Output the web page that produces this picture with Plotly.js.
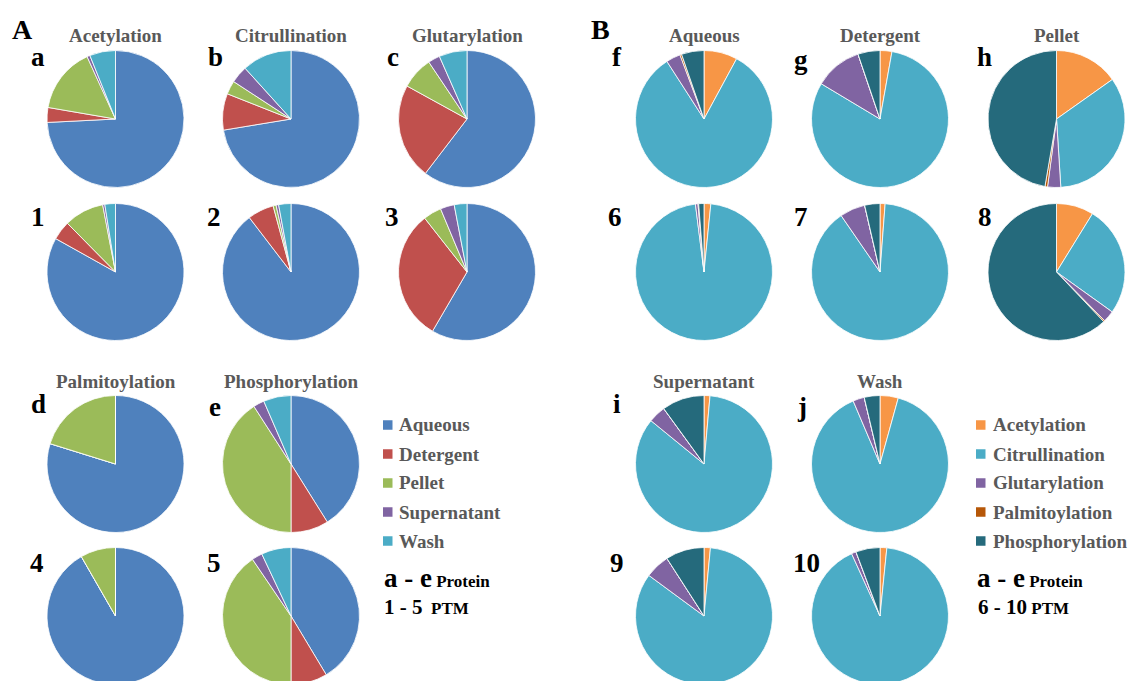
<!DOCTYPE html>
<html>
<head>
<meta charset="utf-8">
<script src="https://cdn.plot.ly/plotly-3.0.1.min.js"></script>
<style>
html,body{margin:0;padding:0;background:#fff;overflow:hidden;}
#chart{width:1131px;height:700px;}
</style>
</head>
<body>
<div id="chart"></div>
<script>
// ---------- DATA ----------
const fractionLabels = ["Aqueous", "Detergent", "Pellet", "Supernatant", "Wash"];
const ptmLabels = ["Acetylation", "Citrullination", "Glutarylation", "Palmitoylation", "Phosphorylation"];

// Panel A: distribution of each PTM across fractions (% of total)
const acetylationProtein     = [74.2, 3.5, 15.5, 0.7, 6.1];   // a
const citrullinationProtein  = [72.4, 8.6, 3.2, 4.1, 11.7];   // b
const glutarylationProtein   = [60.4, 22.6, 7.6, 2.8, 6.6];   // c
const palmitoylationProtein  = [79.8, 0, 20.2, 0, 0];         // d
const phosphorylationProtein = [41.1, 8.9, 40.9, 2.6, 6.5];   // e
const acetylationPTM         = [83.1, 4.5, 9.4, 0.5, 2.5];    // 1
const citrullinationPTM      = [89.6, 6.2, 0.7, 0.6, 2.9];    // 2
const glutarylationPTM       = [58.4, 31.0, 4.3, 3.3, 3.0];   // 3
const palmitoylationPTM      = [91.7, 0, 8.3, 0, 0];          // 4
const phosphorylationPTM     = [41.4, 8.6, 40.5, 2.5, 7.0];   // 5

// Panel B: distribution of PTMs within each fraction (% of total)
const aqueousProtein     = [7.9, 83.0, 3.4, 0.4, 5.3];        // f
const detergentProtein   = [2.8, 80.8, 11.2, 0, 5.2];         // g
const pelletProtein      = [15.2, 33.8, 3.1, 0.6, 47.3];      // h
const supernatantProtein = [1.4, 84.5, 4.1, 0, 10.0];         // i
const washProtein        = [4.3, 89.3, 2.7, 0, 3.7];          // j
const aqueousPTM         = [1.6, 96.4, 0.6, 0.15, 1.25];      // 6
const detergentPTM       = [1.2, 89.2, 6.0, 0, 3.6];          // 7
const pelletPTM          = [8.8, 26.1, 2.7, 0.3, 62.1];       // 8
const supernatantPTM     = [1.5, 83.6, 5.8, 0, 9.1];          // 9
const washPTM            = [1.6, 91.6, 1.1, 0, 5.7];          // 10

const panelATitles = ["Acetylation", "Citrullination", "Glutarylation", "Palmitoylation", "Phosphorylation"];
const panelBTitles = ["Aqueous", "Detergent", "Pellet", "Supernatant", "Wash"];
const keyLines = ["a - e", "Protein"];
const ptmKeyA = ["1 - 5", "PTM"];
const ptmKeyB = ["6 - 10", "PTM"];

// ---------- STYLE / LAYOUT ----------
const W = 1131, H = 700;
const colorsA = ["#4F81BD", "#C0504D", "#9BBB59", "#8064A2", "#4BACC6"];
const colorsB = ["#F79646", "#4BACC6", "#8064A2", "#B65708", "#256A7C"];
const R = 68.5;
const FONT = "Liberation Serif, Times New Roman, serif";
const GRAY = "#595959";

const px = x => x / W;
const py = y => 1 - y / H;

function pie(values, labels, colors, cx, cy) {
  return {
    type: "pie",
    values: values,
    labels: labels,
    sort: false,
    direction: "clockwise",
    rotation: 0,
    textinfo: "none",
    hoverinfo: "label+percent",
    showlegend: false,
    marker: { colors: colors, line: { color: "#ffffff", width: 0.8 } },
    domain: { x: [px(cx - R), px(cx + R)], y: [py(cy + R), py(cy - R)] }
  };
}

const colA = [115.5, 291, 467];
const colB = [704, 880, 1056.5];
const rowY = [119, 272, 464, 616];

const traces = [
  pie(acetylationProtein, fractionLabels, colorsA, colA[0], rowY[0]),
  pie(citrullinationProtein, fractionLabels, colorsA, colA[1], rowY[0]),
  pie(glutarylationProtein, fractionLabels, colorsA, colA[2], rowY[0]),
  pie(acetylationPTM, fractionLabels, colorsA, colA[0], rowY[1]),
  pie(citrullinationPTM, fractionLabels, colorsA, colA[1], rowY[1]),
  pie(glutarylationPTM, fractionLabels, colorsA, colA[2], rowY[1]),
  pie(palmitoylationProtein, fractionLabels, colorsA, colA[0], rowY[2]),
  pie(phosphorylationProtein, fractionLabels, colorsA, colA[1], rowY[2]),
  pie(palmitoylationPTM, fractionLabels, colorsA, colA[0], rowY[3]),
  pie(phosphorylationPTM, fractionLabels, colorsA, colA[1], rowY[3]),

  pie(aqueousProtein, ptmLabels, colorsB, colB[0], rowY[0]),
  pie(detergentProtein, ptmLabels, colorsB, colB[1], rowY[0]),
  pie(pelletProtein, ptmLabels, colorsB, colB[2], rowY[0]),
  pie(aqueousPTM, ptmLabels, colorsB, colB[0], rowY[1]),
  pie(detergentPTM, ptmLabels, colorsB, colB[1], rowY[1]),
  pie(pelletPTM, ptmLabels, colorsB, colB[2], rowY[1]),
  pie(supernatantProtein, ptmLabels, colorsB, colB[0], rowY[2]),
  pie(washProtein, ptmLabels, colorsB, colB[1], rowY[2]),
  pie(supernatantPTM, ptmLabels, colorsB, colB[0], rowY[3]),
  pie(washPTM, ptmLabels, colorsB, colB[1], rowY[3])
];

const annotations = [];
function txt(text, x, y, size, color, anchor) {
  annotations.push({
    text: text, x: px(x), y: py(y), xref: "paper", yref: "paper",
    xanchor: anchor || "center", yanchor: "middle", showarrow: false,
    font: { family: FONT, size: size, color: color, weight: "bold" }
  });
}

// panel letters
txt("A", 22.5, 30, 28, "#000");
txt("B", 600, 30, 28, "#000");

// titles
const titleRowTop = 35, titleRowBot = 381;
txt(panelATitles[0], colA[0], titleRowTop, 19, GRAY);
txt(panelATitles[1], colA[1], titleRowTop, 19, GRAY);
txt(panelATitles[2], colA[2], titleRowTop, 19, GRAY);
txt(panelATitles[3], colA[0], titleRowBot, 19, GRAY);
txt(panelATitles[4], colA[1], titleRowBot, 19, GRAY);
txt(panelBTitles[0], colB[0], titleRowTop, 19, GRAY);
txt(panelBTitles[1], colB[1], titleRowTop, 19, GRAY);
txt(panelBTitles[2], colB[2], titleRowTop, 19, GRAY);
txt(panelBTitles[3], colB[0], titleRowBot, 19, GRAY);
txt(panelBTitles[4], colB[1], titleRowBot, 19, GRAY);

// sub-chart labels
const subLabels = [
  ["a", 37.5, 57], ["b", 215, 57], ["c", 393, 57],
  ["1", 37.5, 217], ["2", 214, 217], ["3", 392, 217],
  ["d", 38, 404], ["e", 215, 407],
  ["4", 37, 563], ["5", 214, 563],
  ["f", 617, 57], ["g", 801, 60], ["h", 984, 57],
  ["6", 615, 217], ["7", 801, 217], ["8", 985, 217],
  ["i", 617, 404], ["j", 802, 407],
  ["9", 617, 563], ["10", 806, 563]
];
subLabels.forEach(s => txt(s[0], s[1], s[2], 27, "#000"));

// legends
const shapes = [];
const legendY = [425, 454, 483, 512, 541];
function legend(labels, colors, sqX, textX) {
  labels.forEach((lab, i) => {
    shapes.push({
      type: "rect", xref: "paper", yref: "paper",
      x0: px(sqX), x1: px(sqX + 9.5), y0: py(legendY[i] + 4.75), y1: py(legendY[i] - 4.75),
      fillcolor: colors[i], line: { width: 0 }
    });
    txt(lab, textX, legendY[i], 19, GRAY, "left");
  });
}
legend(fractionLabels, colorsA, 383, 397);
legend(ptmLabels, colorsB, 976, 991);

function key(parts, x, y, bigSize) {
  annotations.push({
    text: "<span style='font-size:" + bigSize + "px'>" + parts[0] + "</span>\u00a0<span style='font-size:17px'>" + parts[1] + "</span>",
    x: px(x), y: py(y), xref: "paper", yref: "paper", xanchor: "left", yanchor: "middle",
    showarrow: false, font: { family: FONT, size: 17, color: "#000", weight: "bold" }
  });
}
key(keyLines, 382, 578, 27);
key([ptmKeyA[0], "\u00a0" + ptmKeyA[1]], 382, 607, 21);
key(keyLines, 975, 578, 27);
key([ptmKeyB[0], ptmKeyB[1]], 976, 607, 21);

const layout = {
  width: W, height: H,
  margin: { l: 0, r: 0, t: 0, b: 0 },
  paper_bgcolor: "#ffffff",
  plot_bgcolor: "#ffffff",
  annotations: annotations,
  shapes: shapes,
  font: { family: FONT }
};

Plotly.newPlot("chart", traces, layout, { displayModeBar: false, staticPlot: true });
</script>
</body>
</html>
